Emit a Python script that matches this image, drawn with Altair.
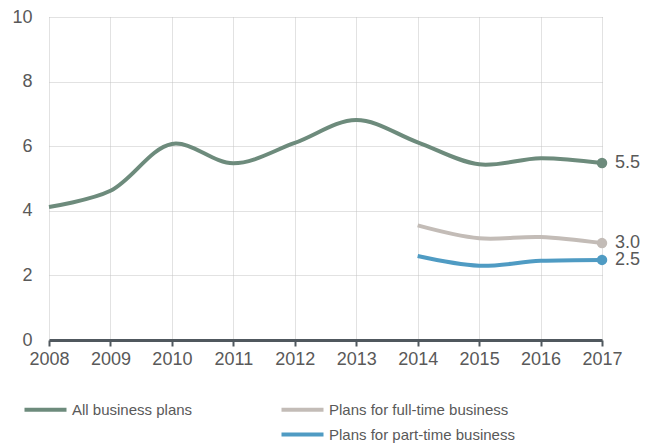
import altair as alt
import pandas as pd

years_all = [2008, 2009, 2010, 2011, 2012, 2013, 2014, 2015, 2016, 2017]
all_plans = [4.12, 4.62, 6.07, 5.47, 6.1, 6.81, 6.12, 5.44, 5.63, 5.48]
years_sub = [2014, 2015, 2016, 2017]
full_time = [3.55, 3.15, 3.19, 3.0]
part_time = [2.6, 2.3, 2.45, 2.48]
end_labels = ["5.5", "3.0", "2.5"]

S_ALL = "All business plans"
S_FULL = "Plans for full-time business"
S_PART = "Plans for part-time business"
S_BLANK = " "

rows = []
for y, v in zip(years_all, all_plans):
    rows.append({"year": y, "value": v, "series": S_ALL})
for y, v in zip(years_sub, full_time):
    rows.append({"year": y, "value": v, "series": S_FULL})
for y, v in zip(years_sub, part_time):
    rows.append({"year": y, "value": v, "series": S_PART})
df = pd.DataFrame(rows)

ends = pd.DataFrame({
    "year": [years_all[-1], years_sub[-1], years_sub[-1]],
    "value": [all_plans[-1], full_time[-1], part_time[-1]],
    "series": [S_ALL, S_FULL, S_PART],
    "label": end_labels,
})

FONT = "Liberation Sans"
TXT = "#595959"
# legend is laid out column-major: col 1 = All, blank; col 2 = full, part
domain = [S_ALL, S_BLANK, S_FULL, S_PART]
rng = ["#6d8b7c", "rgba(0,0,0,0)", "#c3bcb7", "#4f9bc3"]

x = alt.X("year:Q", scale=alt.Scale(domain=[2008, 2017], nice=False, zero=False),
          axis=alt.Axis(values=years_all, format="d", title=None, labelFontSize=18,
                        labelColor=TXT, labelFont=FONT, labelPadding=4,
                        domainColor="#50585e", domainWidth=3, tickColor="#50585e",
                        tickWidth=2, tickSize=6, gridColor="#c4c4c4", gridDash=[1, 1],
                        gridWidth=1, labelFlush=False))
y = alt.Y("value:Q", scale=alt.Scale(domain=[0, 10], nice=False),
          axis=alt.Axis(values=[0, 2, 4, 6, 8, 10], title=None, labelFontSize=18,
                        labelColor=TXT, labelFont=FONT, labelPadding=17, ticks=False,
                        domain=False, gridColor="#c4c4c4", gridDash=[1, 1], gridWidth=1))

color = alt.Color("series:N", scale=alt.Scale(domain=domain, range=rng),
                  legend=alt.Legend(title=None, orient="none", legendX=8, legendY=385,
                                    columns=2, columnPadding=80, rowPadding=8,
                                    symbolType="M-8,0L0.4,0", symbolSize=100,
                                    symbolStrokeWidth=4, labelFontSize=15,
                                    labelColor=TXT, labelFont=FONT, labelOffset=0,
                                    labelLimit=300, padding=0))

lines = alt.Chart(df).mark_line(strokeWidth=4, interpolate="catmull-rom").encode(
    x=x, y=y, color=color, detail="series:N")

pts = alt.Chart(ends).mark_circle(size=110, opacity=1).encode(
    x="year:Q", y="value:Q", color=alt.Color("series:N", legend=None))

txt = alt.Chart(ends).mark_text(align="left", baseline="middle", dx=13, fontSize=18,
                                font=FONT, color=TXT).encode(
    x="year:Q", y="value:Q", text="label:N")

chart = alt.layer(lines, pts, txt).properties(
    width=553, height=323,
    autosize=alt.AutoSizeParams(type="none"),
    padding={"left": 41, "top": 9, "right": 40, "bottom": 103},
).configure_view(stroke=None)

chart.save("out.html", embed_options={"renderer": "svg", "actions": False})
